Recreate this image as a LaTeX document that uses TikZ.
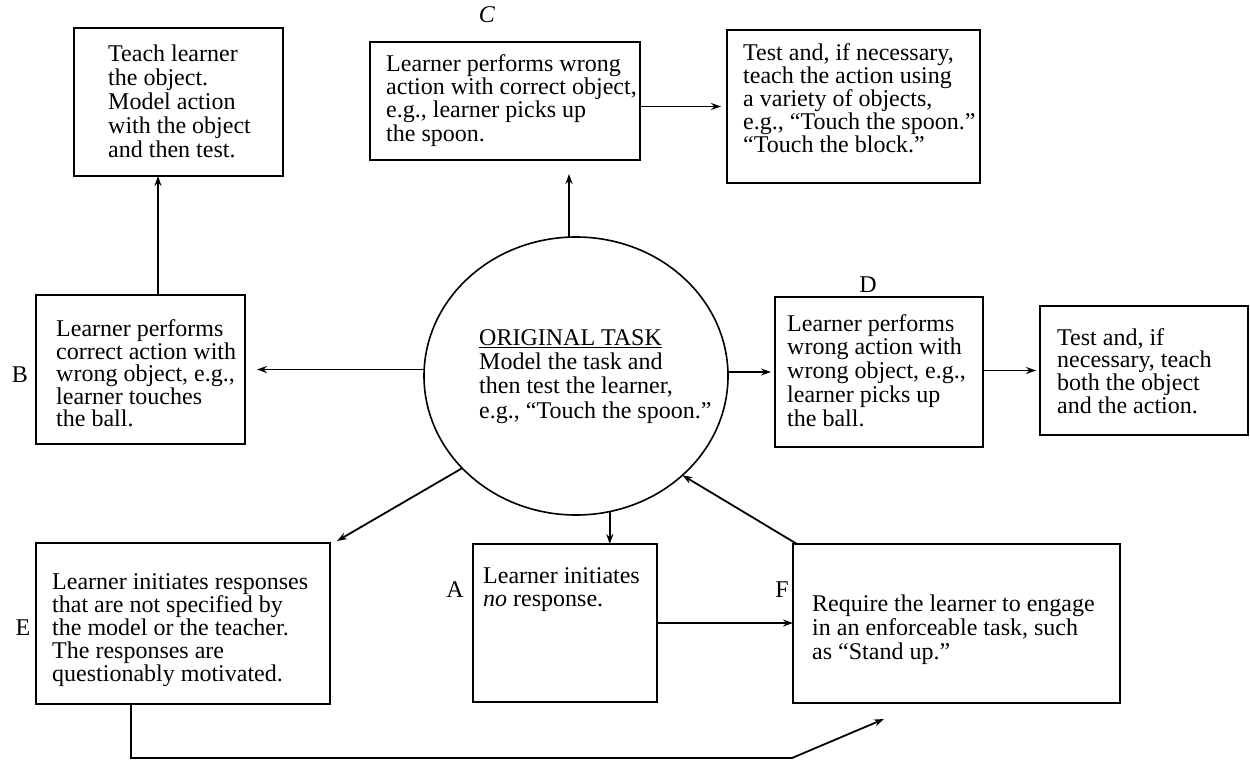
\documentclass[tikz,border=0pt]{standalone}
\usepackage{fontspec}
\setmainfont{Liberation Serif}
\usetikzlibrary{arrows.meta,shapes.geometric}
\tikzset{
  box/.style={draw, line width=1.8pt, inner sep=0pt, outer sep=0pt},
  txt/.style={anchor=base west, align=left, inner sep=0pt, font=\fontsize{24}{#1}\selectfont},
  lab/.style={inner sep=0pt, font=\fontsize{24}{24}\selectfont},
  arr/.style={line width=1.8pt, -{Stealth[length=10pt,width=7pt]}},
}
\begin{document}
\begin{tikzpicture}[x=1pt,y=-1pt]
\useasboundingbox[fill=white] (0,0) rectangle (1250,761);
% boxes
\node[box, minimum width=209, minimum height=148] (t) at (178.5,102) {};
\node[box, minimum width=270, minimum height=118] (c) at (505,101) {};
\node[box, minimum width=253, minimum height=153] (tc) at (853.5,106.5) {};
\node[box, minimum width=209, minimum height=149] (b) at (140.5,369.5) {};
\node[box, minimum width=208, minimum height=150] (d) at (879,372) {};
\node[box, minimum width=208, minimum height=129] (td) at (1144,370.5) {};
\node[box, minimum width=294, minimum height=161] (e) at (183,623.5) {};
\node[box, minimum width=184, minimum height=158] (a) at (565,623) {};
\node[box, minimum width=327, minimum height=159] (f) at (956.5,623.5) {};
\node[draw, ellipse, line width=1.6pt, minimum width=304, minimum height=278, inner sep=0pt, outer sep=0pt] (o) at (576,376) {};
% texts (anchored at the baseline of the last line)
\node[txt=24] (tt) at (108,157) {Teach learner\\the object.\\Model action\\with the object\\and then test.};
\node[txt=23.3] (ct) at (386,141) {Learner performs wrong\\action with correct object,\\e.g., learner picks up\\the spoon.};
\node[txt=21.5] (tct) at (743,152) {Test and, if necessary,\\teach the action using\\a variety of objects,\\e.g., “Touch the spoon.”\\“Touch the block.”};
\node[txt=21.75] (bt) at (56,426) {Learner performs\\correct action with\\wrong object, e.g.,\\learner touches\\the ball.};
\node[txt=23.75] (dt) at (787,426) {Learner performs\\wrong action with\\wrong object, e.g.,\\learner picks up\\the ball.};
\node[txt=21.7] (tdt) at (1057,413) {Test and, if\\necessary, teach\\both the object\\and the action.};
\node[txt=23] (et) at (52,681) {Learner initiates responses\\that are not specified by\\the model or the teacher.\\The responses are\\questionably motivated.};
\node[txt=23] (at) at (483,606) {Learner initiates\\\textit{no} response.};
\node[txt=24] (ft) at (812,659) {Require the learner to engage\\in an enforceable task, such\\as “Stand up.”};
\node[txt=24.3] (ot) at (479,418) {\underline{ORIGINAL TASK}\\Model the task and\\then test the learner,\\e.g., “Touch the spoon.”};
% labels
\node[lab] (lc) at (487,15) {\textit{C}};
\node[lab] (ld) at (868,285) {D};
\node[lab] (lb) at (20,375) {B};
\node[lab] (le) at (23,628) {E};
\node[lab] (la) at (455,590) {A};
\node[lab] (lf) at (782,590) {F};
% connectors
\draw[arr] ([xshift=17.5pt]b.north) -- ([xshift=17.5pt]b.north |- t.south);
\draw[arr] (o.north -| 569,0) -- ([yshift=-14pt]c.south -| 569,0);
\draw[arr] (tc.west -| c.east) -- ([xshift=-6pt]tc.west);
\draw[arr] (o.west |- b.east) -- ([xshift=12pt]b.east);
\draw[arr] (o.east |- d.west) -- ([xshift=-4pt]d.west);
\draw[arr] (d.east |- td.west) -- ([xshift=-4pt]td.west);
\draw[arr] (o.219) -- ([xshift=7pt,yshift=2pt]e.north east);
\draw[arr] (o.284) -- (o.284 |- a.north);
\draw[arr] ([xshift=4pt]f.north west) -- (o.317);
\draw[arr] (a.east) -- (a.east -| f.west);
\coordinate (bend) at (792,758);
\coordinate (fin) at (884,719);
\draw[arr] ([xshift=-52pt]e.south) |- (bend) -- (fin);
\end{tikzpicture}
\end{document}
